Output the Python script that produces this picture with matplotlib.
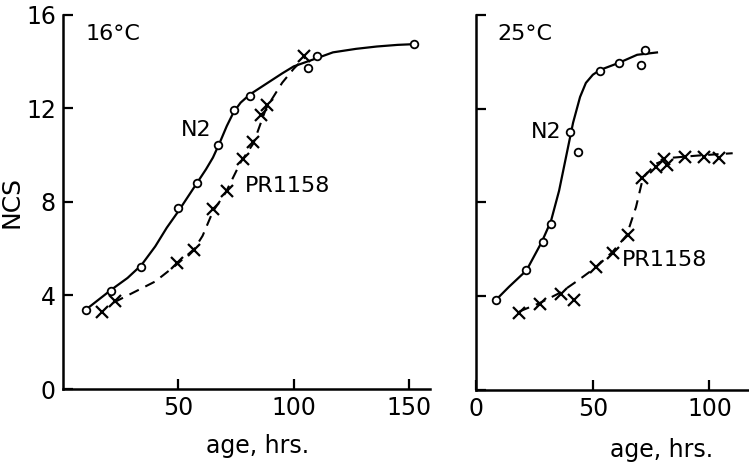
import numpy as np
import matplotlib.pyplot as plt

# 16 C panel: measured points
n2_16_age = [10, 21, 34, 50, 58, 67, 74, 81, 106, 110, 152]
n2_16_ncs = [3.4, 4.2, 5.2, 7.75, 8.8, 10.45, 11.95, 12.55, 13.75, 14.25, 14.75]
pr_16_age = [17, 22.5, 49.5, 57, 65, 71, 78, 82.5, 86, 88.5, 104.5]
pr_16_ncs = [3.3, 3.75, 5.4, 5.95, 7.7, 8.45, 9.85, 10.55, 11.7, 12.15, 14.25]

# 16 C panel: hand-drawn curves
n2_16_fit_age = [10, 21, 28, 34, 40, 45, 50, 54, 58, 62, 65, 68, 71, 74, 77, 81, 88, 95, 100, 110, 117, 127, 136, 145, 152]
n2_16_fit_ncs = [3.4, 4.25, 4.75, 5.3, 6.1, 6.9, 7.6, 8.2, 8.8, 9.4, 9.9, 10.55, 11.25, 11.85, 12.25, 12.6, 13.05, 13.5, 13.8, 14.15, 14.4, 14.55, 14.65, 14.72, 14.75]
pr_16_fit_age = [22, 30, 40, 49, 57, 60.5, 65, 70.5, 77, 82.5, 88, 95, 100, 105]
pr_16_fit_ncs = [3.7, 4.1, 4.6, 5.3, 6.0, 6.55, 7.6, 8.4, 9.7, 10.5, 12.0, 13.1, 13.7, 14.2]

# 25 C panel: measured points
n2_25_age = [8.5, 21.5, 28.5, 32, 40, 43.5, 53, 61, 70.5, 72.5]
n2_25_ncs = [3.85, 5.1, 6.3, 7.1, 11.0, 10.15, 13.6, 13.95, 13.85, 14.5]
pr_25_age = [18.5, 27.5, 36.5, 42, 51.5, 58.5, 65, 71, 77, 80.5, 82, 89.5, 97.5, 104]
pr_25_ncs = [3.3, 3.65, 4.1, 3.85, 5.25, 5.85, 6.6, 9.05, 9.5, 9.85, 9.6, 9.95, 9.95, 9.9]

# 25 C panel: hand-drawn curves
n2_25_fit_age = [8.5, 14, 21.5, 28, 32, 35.5, 38.5, 41.5, 44.5, 47, 50, 53, 61, 69, 77.5]
n2_25_fit_ncs = [3.85, 4.4, 5.1, 6.3, 7.2, 8.5, 9.95, 11.4, 12.5, 13.1, 13.45, 13.65, 13.95, 14.3, 14.4]
pr_25_fit_age = [18.5, 27, 36, 44, 51.5, 58.5, 64.5, 68.5, 71.5, 77, 83, 95, 110]
pr_25_fit_ncs = [3.35, 3.7, 4.15, 4.7, 5.25, 5.9, 6.6, 7.8, 9.05, 9.65, 9.9, 10.0, 10.1]

yticks = [0, 4, 8, 12, 16]

plt.rcParams['font.family'] = ['DejaVu Sans']
fig = plt.figure(figsize=(7.49, 4.67), dpi=100)
ax1 = fig.add_axes([0.084, 0.167, 0.49, 0.801])
ax2 = fig.add_axes([0.636, 0.165, 0.364, 0.803])

mk = dict(markerfacecolor='white', markeredgecolor='black', linestyle='none')
dash = (0, (5, 3.5))

ax1.plot(n2_16_fit_age, n2_16_fit_ncs, color='black', lw=1.6)
ax1.plot(pr_16_fit_age, pr_16_fit_ncs, color='black', lw=1.5, linestyle=dash)
ax1.plot(n2_16_age, n2_16_ncs, marker='o', markersize=5.5, markeredgewidth=1.3, **mk)
ax1.plot(pr_16_age, pr_16_ncs, marker='x', markersize=8, markeredgewidth=1.6, **mk)

ax2.plot(n2_25_fit_age, n2_25_fit_ncs, color='black', lw=1.6)
ax2.plot(pr_25_fit_age, pr_25_fit_ncs, color='black', lw=1.5, linestyle=dash)
ax2.plot(n2_25_age, n2_25_ncs, marker='o', markersize=5.5, markeredgewidth=1.3, **mk)
ax2.plot(pr_25_age, pr_25_ncs, marker='x', markersize=8, markeredgewidth=1.6, **mk)

for ax in (ax1, ax2):
    ax.set_ylim(0, 16)
    ax.set_yticks(yticks)
    for s in ('top', 'right'):
        ax.spines[s].set_visible(False)
    for s in ('left', 'bottom'):
        ax.spines[s].set_linewidth(1.8)
    ax.tick_params(direction='in', length=7, width=1.6, labelsize=17, pad=5)
    ax.set_xlabel('age, hrs.', fontsize=17)

ax1.xaxis.set_label_coords(0.53, -0.12)
ax2.xaxis.set_label_coords(0.68, -0.128)

ax1.set_xlim(0, 159)
ax1.set_xticks([50, 100, 150])
ax1.set_ylabel('NCS', fontsize=18, labelpad=2)

ax2.set_xlim(0, 117)
ax2.set_xticks([0, 50, 100])
ax2.set_yticklabels([])

ax1.text(10, 15.2, '16°C', fontsize=16, va='center')
ax1.text(51, 11.1, 'N2', fontsize=16, va='center')
ax1.text(79, 8.7, 'PR1158', fontsize=16, va='center')

ax2.text(9, 15.2, '25°C', fontsize=16, va='center')
ax2.text(23.5, 11.0, 'N2', fontsize=16, va='center')
ax2.text(62.5, 5.55, 'PR1158', fontsize=16, va='center')

fig.savefig('out.png', dpi=100)
